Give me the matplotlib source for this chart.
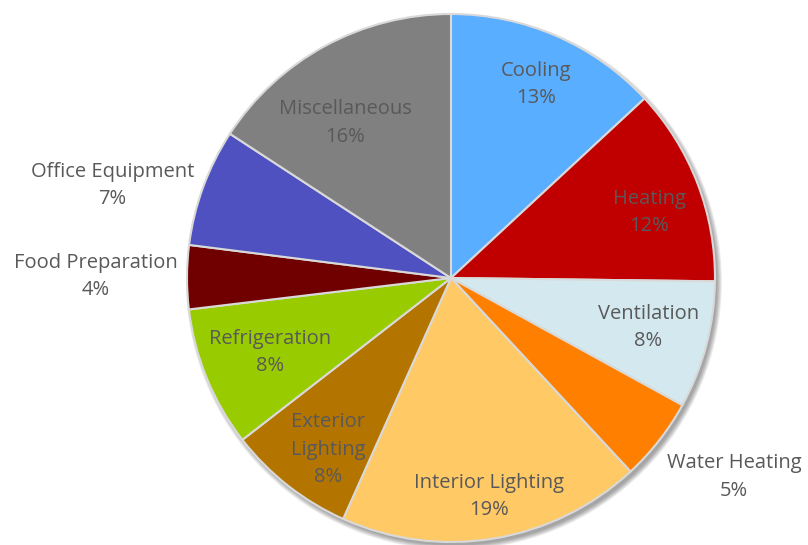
import matplotlib.pyplot as plt
import numpy as np
from matplotlib.patches import Circle

categories = ["Cooling", "Heating", "Ventilation", "Water Heating",
              "Interior Lighting", "Exterior\nLighting", "Refrigeration",
              "Food Preparation", "Office Equipment", "Miscellaneous"]
shares = [13.1, 12.1, 7.8, 5.1, 18.6, 7.8, 8.6, 3.9, 7.2, 15.8]
pct_labels = ["13%", "12%", "8%", "5%", "19%", "8%", "8%", "4%", "7%", "16%"]
colors = ["#5aaeff", "#c00000", "#d3e9ef", "#ff8000", "#ffc966",
          "#b47500", "#99cc00", "#700000", "#4f51c0", "#808080"]
# label placement: radial distance (pie radii) and angular nudge (deg, clockwise)
label_dist = [0.80, 0.79, 0.77, 1.31, 0.84, 0.80, 0.74, 1.345, 1.33, 0.71]
label_nudge = [0.2, 2.7, -0.6, -2.9, -0.4, -2.6, -0.1, 0.1, -4.9, -5.9]

W, H = 808, 545
cx, cy, R = 451, H - 278, 264

fig = plt.figure(figsize=(W / 100, H / 100), dpi=100)
ax = fig.add_axes([0, 0, 1, 1])

# soft drop shadow
for k in range(8):
    ax.add_patch(Circle((cx + 3, cy - 4), R + 4 - k * 0.7,
                        color="black", alpha=0.05, lw=0, zorder=0))

wedges, _ = ax.pie(shares, colors=colors, startangle=90, counterclock=False,
                   center=(cx, cy), radius=R, frame=True,
                   wedgeprops=dict(edgecolor="#d9d9d9", linewidth=1.5))
ax.set_xlim(0, W)
ax.set_ylim(0, H)
ax.set_aspect("equal")
ax.axis("off")

for w, name, pct, d, nudge in zip(wedges, categories, pct_labels,
                                  label_dist, label_nudge):
    mid = np.deg2rad((w.theta1 + w.theta2) / 2 - nudge)
    x = cx + d * R * np.cos(mid)
    y = cy + d * R * np.sin(mid)
    ax.text(x, y, f"{name}\n{pct}", ha="center", va="center",
            fontsize=14.5, color="#595959", family="Open Sans",
            linespacing=1.5, zorder=5)

fig.savefig("out.png", dpi=100)
